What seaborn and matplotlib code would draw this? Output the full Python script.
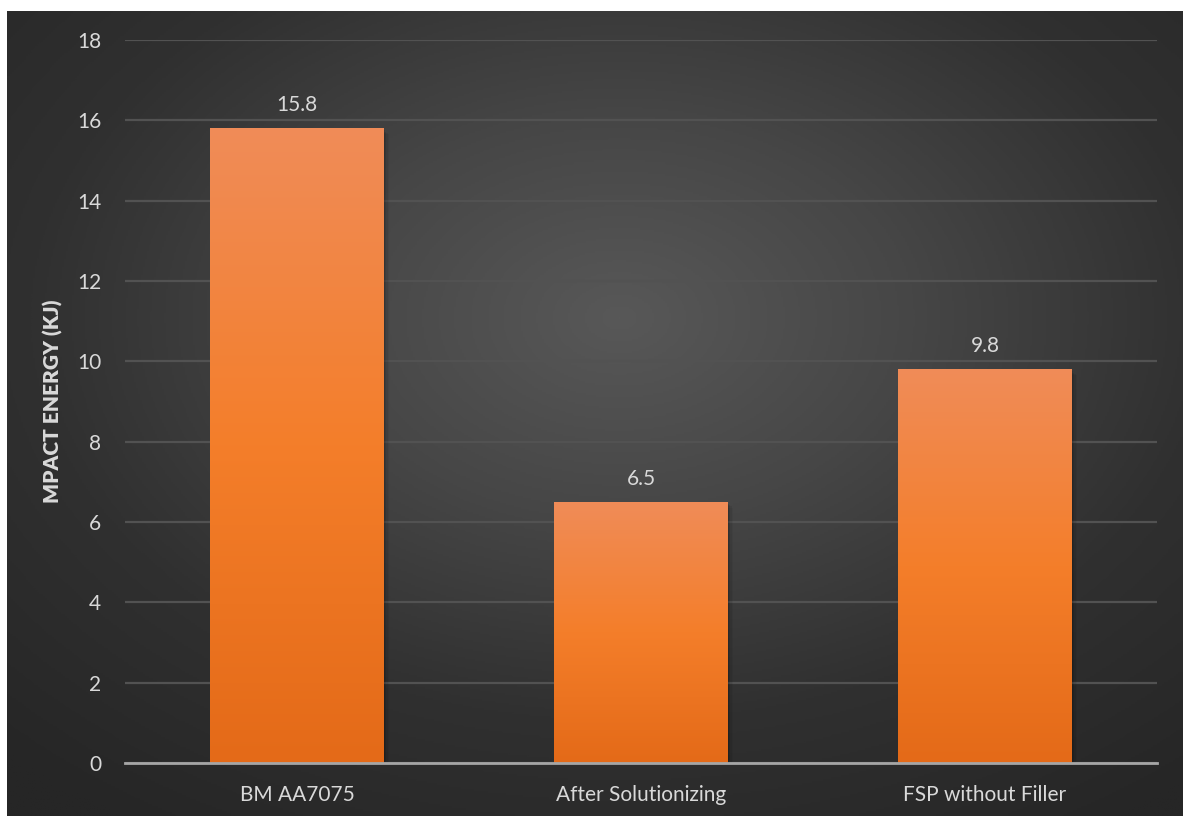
import numpy as np
import pandas as pd
import matplotlib
matplotlib.use("Agg")
import matplotlib.pyplot as plt
from matplotlib.colors import LinearSegmentedColormap
import seaborn as sns

categories = ["BM AA7075", "After Solutionizing", "FSP without Filler"]
impact_energy = [15.8, 6.5, 9.8]
y_ticks = [0, 2, 4, 6, 8, 10, 12, 14, 16, 18]
y_label = "MPACT ENERGY (KJ)"

df = pd.DataFrame({"sample": categories, "energy": impact_energy})

sns.set_theme(style="dark")
plt.rcParams["font.family"] = ["Lato", "DejaVu Sans"]

W, H = 1183, 816
fig = plt.figure(figsize=(W / 100, H / 100), dpi=100, facecolor="white")

# dark panel with a soft radial glow
bg = fig.add_axes([7 / W, 0, 1 - 7 / W, 805 / H])
bg.set_axis_off()
ny, nx = 400, 600
yy, xx = np.mgrid[0:ny, 0:nx]
cx, cy = 0.52 * nx, 0.38 * ny
r = np.sqrt(((xx - cx) / nx) ** 2 + ((yy - cy) / ny) ** 2)
r = np.clip(r / 0.75, 0, 1)
bg_cmap = LinearSegmentedColormap.from_list("panel", ["#585858", "#464646", "#303030", "#262626"])
bg.imshow(r, cmap=bg_cmap, aspect="auto", extent=[0, 1, 0, 1], origin="upper", vmin=0, vmax=1)
bg.set_xlim(0, 1)
bg.set_ylim(0, 1)

ax = fig.add_axes([125 / W, (H - 763) / H, (1157 - 125) / W, (763 - 40) / H])
ax.patch.set_alpha(0)

sns.barplot(data=df, x="sample", y="energy", ax=ax, color="#f47e2a", width=0.503,
            edgecolor="none", zorder=3, errorbar=None)

ax.set_xlim(-0.5, 2.5)
ax.set_ylim(0, 18)
ax.set_yticks(y_ticks)
ax.grid(axis="y", color="#525252", linewidth=1.6, zorder=0)
ax.grid(axis="x", visible=False)
for s in ["top", "right", "left"]:
    ax.spines[s].set_visible(False)
ax.spines["bottom"].set_color("#a6a6a6")
ax.spines["bottom"].set_linewidth(2)
ax.spines["bottom"].set_zorder(5)

ax.tick_params(axis="both", colors="#d9d9d9", labelsize=15, length=0)
ax.tick_params(axis="y", pad=17)
ax.tick_params(axis="x", pad=16)
ax.set_xlabel("")
ax.set_ylabel(y_label, color="#d9d9d9", fontsize=15, fontweight="heavy", labelpad=10)

# vertical gradient fill and soft shadow on each bar
bar_cmap = LinearSegmentedColormap.from_list("bar", ["#e46a18", "#f47e2a", "#f08c58"])
grad = np.linspace(0, 1, 256).reshape(-1, 1)
for patch, val in zip(ax.patches, impact_energy):
    x0 = patch.get_x()
    w = patch.get_width()
    for k, a in enumerate([0.10, 0.08, 0.06, 0.04]):
        dx = 0.004 + k * 0.004
        ax.add_patch(plt.Rectangle((x0 + dx, 0), w, val - 0.05 - k * 0.03,
                                   facecolor="black", alpha=a, edgecolor="none", zorder=2))
    im = ax.imshow(grad, cmap=bar_cmap, aspect="auto", origin="lower",
                   extent=[x0, x0 + w, 0, val], zorder=4)
    im.set_clip_path(patch)
    ax.text(x0 + w / 2, val + 0.58, f"{val}", ha="center", va="center",
            color="#d9d9d9", fontsize=15, zorder=6)

ax.set_xlim(-0.5, 2.5)
ax.set_ylim(0, 18)

fig.savefig("out.png", dpi=100, facecolor="white")
